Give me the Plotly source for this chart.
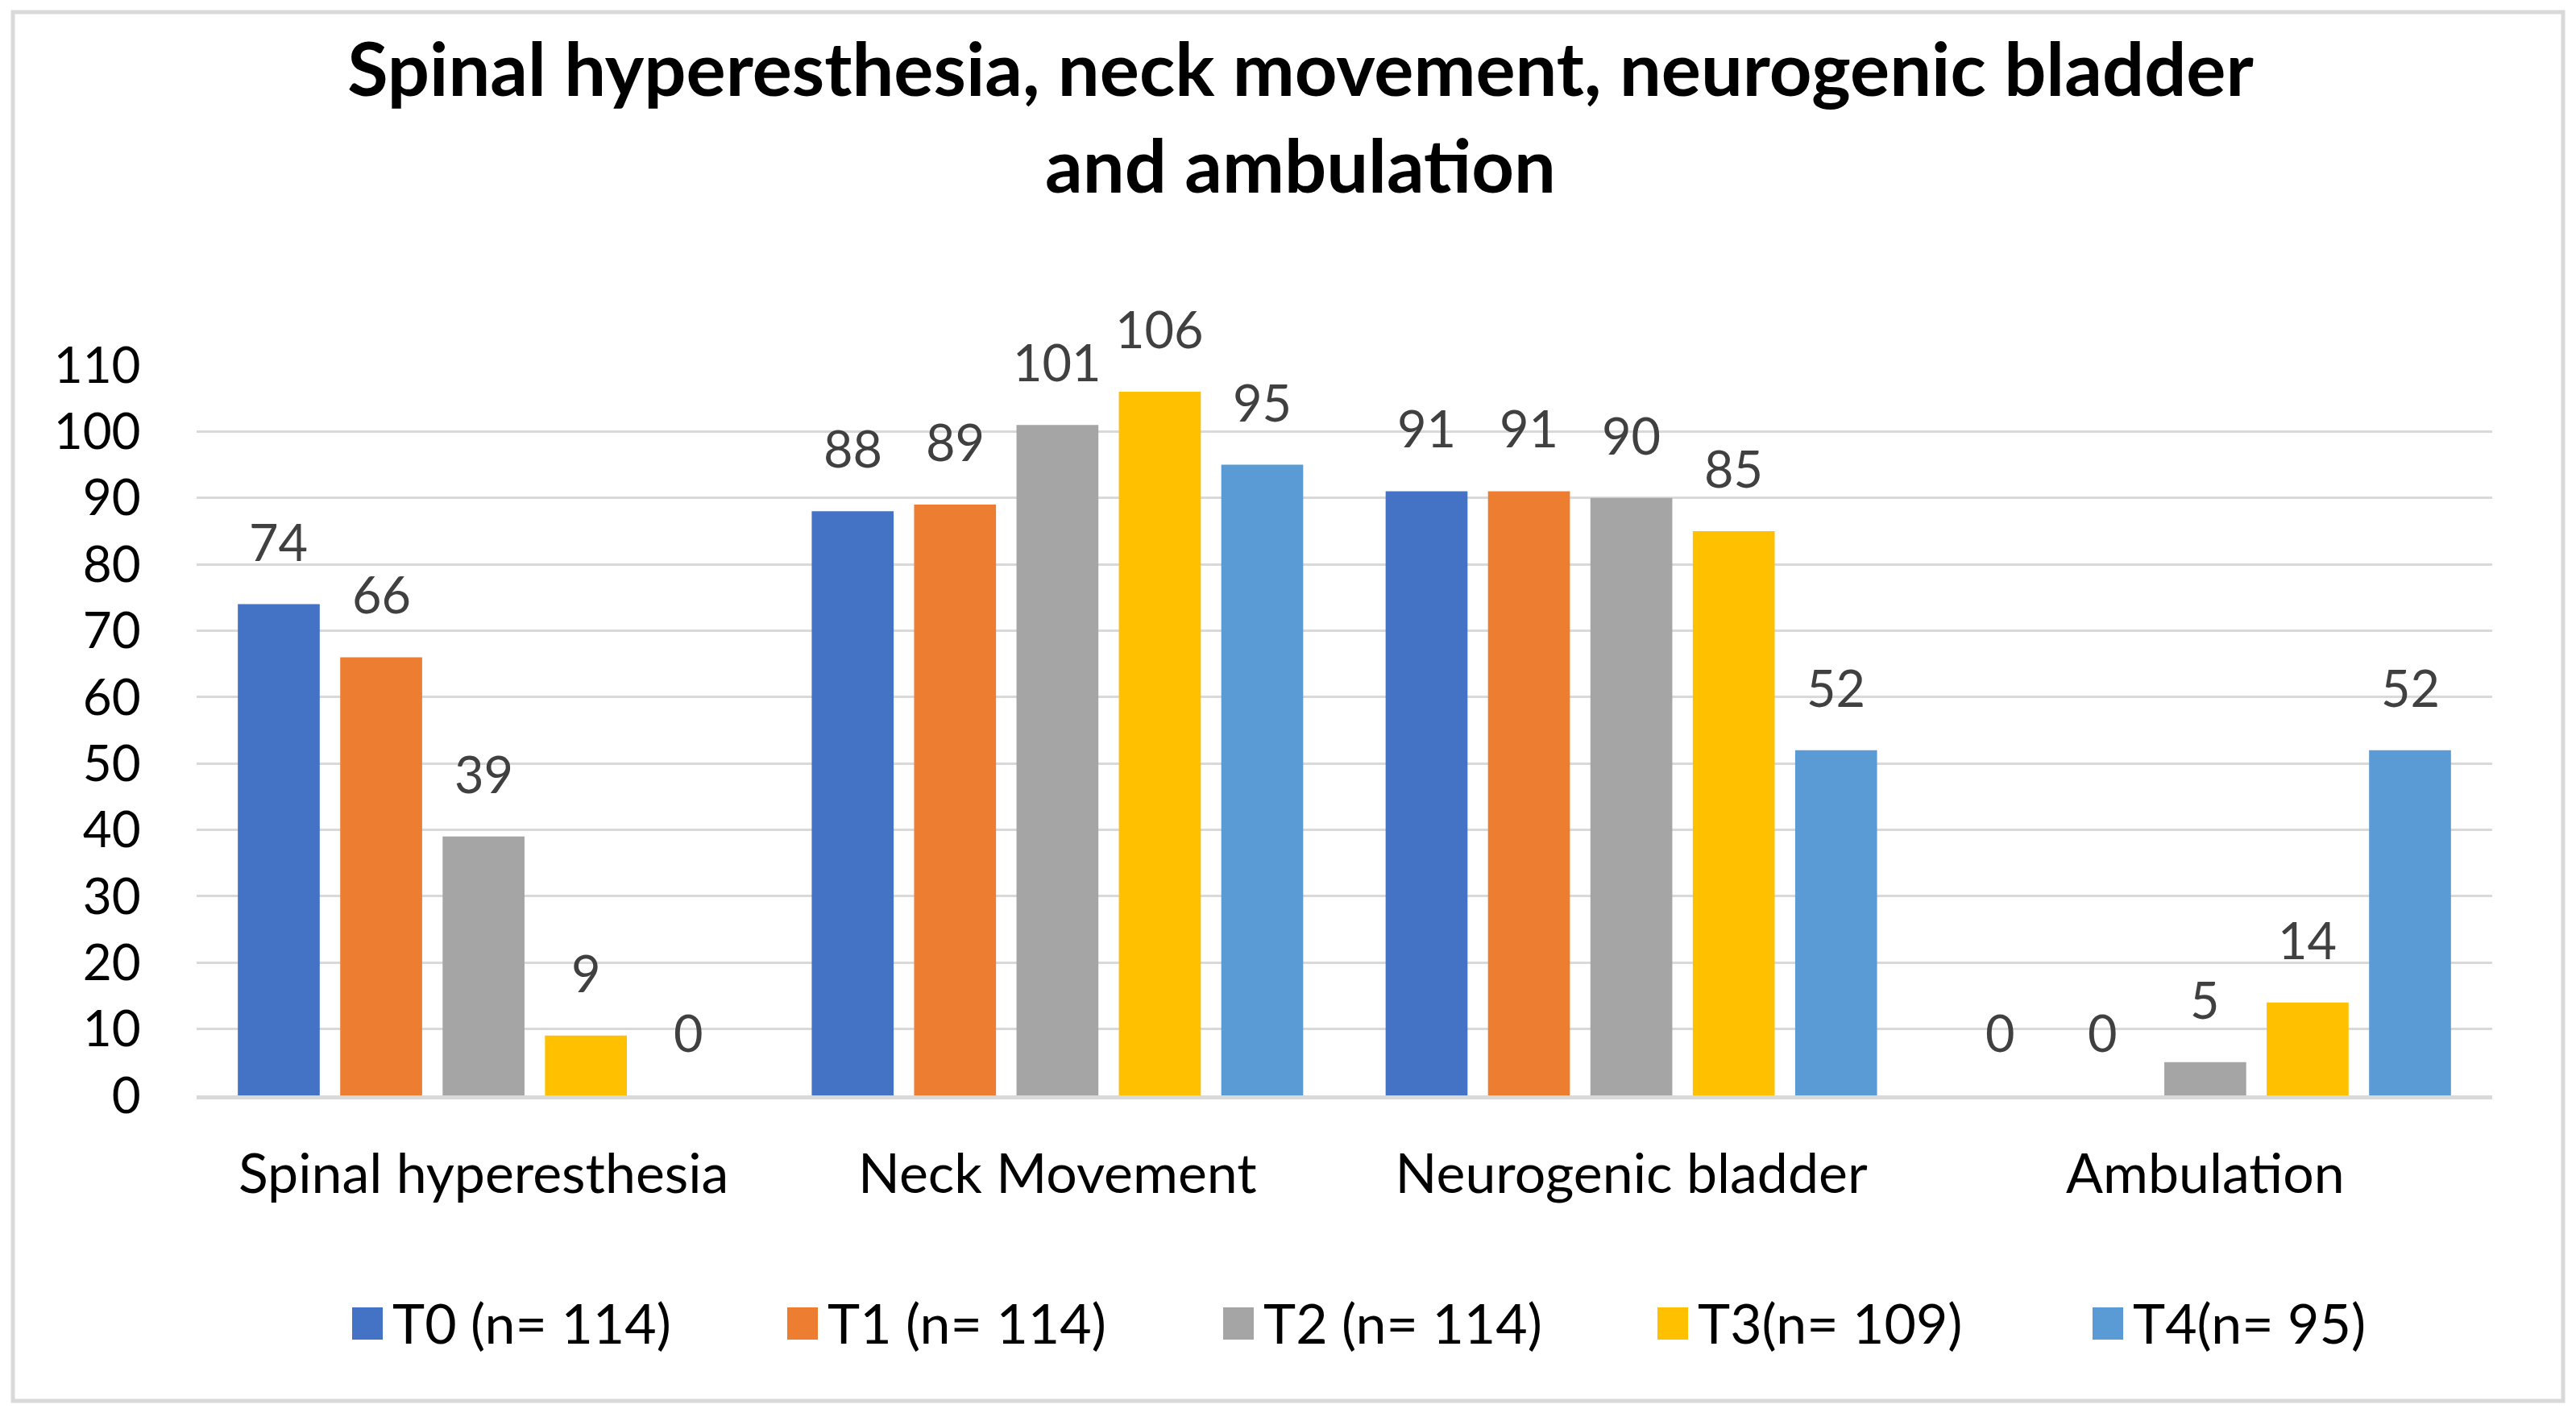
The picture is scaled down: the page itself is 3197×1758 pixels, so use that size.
import plotly.graph_objects as go

# ---------------- data ----------------
categories = ["Spinal hyperesthesia", "Neck Movement", "Neurogenic bladder", "Ambulation"]
series_names = ["T0 (n= 114)", "T1 (n= 114)", "T2 (n= 114)", "T3(n= 109)", "T4(n= 95)"]
t0 = [74, 88, 91, 0]
t1 = [66, 89, 91, 0]
t2 = [39, 101, 90, 5]
t3 = [9, 106, 85, 14]
t4 = [0, 95, 52, 52]
y_ticks = [0, 10, 20, 30, 40, 50, 60, 70, 80, 90, 100, 110]
title_text = "Spinal hyperesthesia, neck movement, neurogenic bladder<br>and ambulation"

series_values = [t0, t1, t2, t3, t4]

# ---------------- style ----------------
colors = ["#4472C4", "#ED7D31", "#A5A5A5", "#FFC000", "#5B9BD5"]
FONT = "Lato"
OFF = 8  # page body margin
W, H = 3197 - OFF, 1758 - OFF
L = 244 - OFF
R = W - (3093 - OFF)
T = 453 - OFF
B = H - (1359 - OFF)
PW, PH = W - L - R, H - T - B
BARGAP = 0.108
BARGROUPGAP = 0.2
n_series = len(series_values)
pitch = (1 - BARGAP) * PW / len(categories) / n_series


def px_x(px):
    # px given in reference-screen coordinates
    return (px - OFF - L) / PW


def px_y(py):
    return (H - B - (py - OFF)) / PH


fig = go.Figure()
for name, vals, col in zip(series_names, series_values, colors):
    fig.add_trace(go.Bar(
        x=categories, y=vals, name=name,
        marker=dict(color=col, line=dict(width=0)),
        showlegend=False,
    ))

annotations = []
# data labels
for i, vals in enumerate(series_values):
    for cat, v in zip(categories, vals):
        annotations.append(dict(
            x=cat, y=v, xref="x", yref="y", text=str(v), showarrow=False,
            xanchor="center", yanchor="bottom", yshift=40,
            xshift=(i - (n_series - 1) / 2) * pitch, borderpad=0,
            font=dict(family=FONT, size=63, color="#404040"),
        ))

# manual legend
legend_x = [437, 977, 1518, 2057, 2597]
shapes = [dict(type="rect", xref="paper", yref="paper",
               x0=px_x(16), x1=px_x(3181), y0=px_y(1738), y1=px_y(15),
               line=dict(color="#D9D9D9", width=5), layer="below")]
for lx, name, col in zip(legend_x, series_names, colors):
    shapes.append(dict(type="rect", xref="paper", yref="paper",
                       x0=px_x(lx), x1=px_x(lx + 38), y0=px_y(1662), y1=px_y(1622),
                       fillcolor=col, line=dict(width=0)))
    annotations.append(dict(
        x=px_x(lx + 48), y=px_y(1640), xref="paper", yref="paper", text=name,
        showarrow=False, xanchor="left", yanchor="middle",
        font=dict(family=FONT, size=68, color="#000000"),
    ))

fig.update_layout(
    width=W, height=H,
    margin=dict(l=L, r=R, t=T, b=B),
    paper_bgcolor="white", plot_bgcolor="white",
    barmode="group", bargap=BARGAP, bargroupgap=BARGROUPGAP,
    font=dict(family=FONT, color="#000000"),
    title=dict(text="<b>" + title_text + "</b>", x=(1614 - OFF) / W, xanchor="center",
               y=1 - 111 / H, yanchor="middle", xref="container", yref="container",
               font=dict(family=FONT, size=92, color="#000000")),
    xaxis=dict(showgrid=False, showline=True, linecolor="#D9D9D9", linewidth=5,
               ticks="outside", ticklen=34, tickcolor="rgba(0,0,0,0)",
               tickfont=dict(family=FONT, size=68, color="#000000")),
    yaxis=dict(range=[0, 110], tickvals=y_ticks, showgrid=True, gridcolor="#D9D9D9",
               gridwidth=3, zeroline=False, showline=False,
               ticks="outside", ticklen=56, tickcolor="rgba(0,0,0,0)",
               tickfont=dict(family=FONT, size=62, color="#000000")),
    annotations=annotations,
    shapes=shapes,
)

fig.write_html("out.html")
